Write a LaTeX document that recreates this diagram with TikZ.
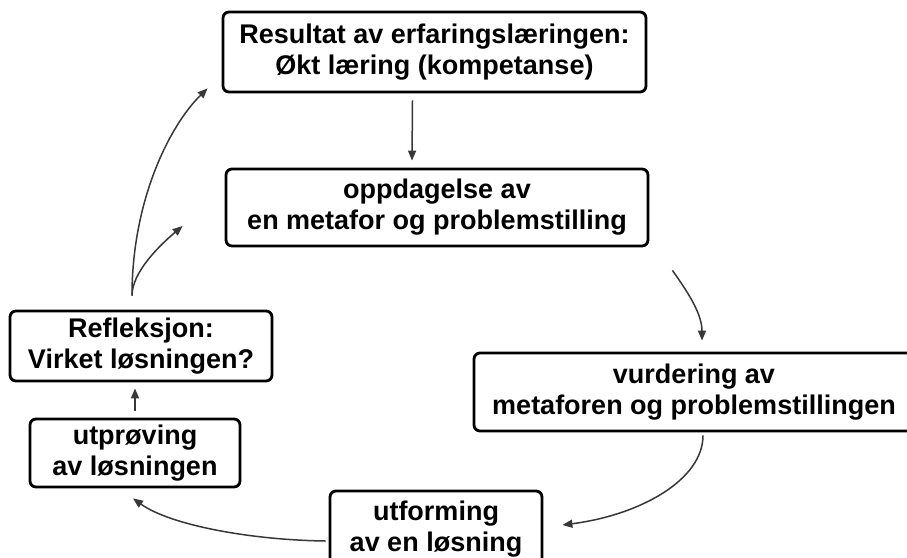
\documentclass[tikz,border=0pt]{standalone}
\usepackage{fontspec}
\setmainfont{Liberation Sans}
\newfontfamily\boxfont{Liberation Sans}
\usetikzlibrary{arrows.meta}
\begin{document}
\begin{tikzpicture}[x=1pt,y=-1pt,
  box/.style={draw=black, line width=2.8pt, rounded corners=6pt, align=center,
    inner sep=0pt, font=\boxfont\bfseries\fontsize{27}{31}\selectfont},
  flow/.style={draw=black!78, line width=1.5pt, -{Triangle[length=10pt,width=8pt]}}]
\clip (0,0) rectangle (907,557);
\fill[white] (0,0) rectangle (907,557);

\node[box, minimum width=423pt, minimum height=80pt] (r) at (434.5,52) {Resultat av erfaringslæringen:\\Økt læring (kompetanse)};
\node[box, minimum width=422pt, minimum height=77pt] (o) at (437,207.5) {oppdagelse av\\en metafor og problemstilling};
\node[box, minimum width=440pt, minimum height=78pt] (v) at (694,392) {vurdering av\\metaforen og problemstillingen};
\node[box, minimum width=212pt, minimum height=76pt] (u) at (436,529) {utforming\\av en løsning};
\node[box, minimum width=210pt, minimum height=68pt] (p) at (135,453) {utprøving\\av løsningen};
\node[box, minimum width=262pt, minimum height=70pt] (f) at (141,346) {Refleksjon:\\Virket løsningen?};

\draw[flow] ([shift={(-22,7)}]r.south) -- ([shift={(-25,-7)}]o.north);
\draw[flow] ([shift={(23,23)}]o.south east) .. controls (690,295) and (702,315) .. ([shift={(8,-11)}]v.north);
\draw[flow] ([shift={(9,3)}]v.south) .. controls (703,480) and (640,515) .. ([shift={(19,-4)}]u.east);
\draw[flow] ([shift={(-3,12)}]u.west) .. controls (250,540) and (170,525) .. ([shift={(-2,10)}]p.south);
\draw[flow] ([shift={(0,-7)}]p.north) -- ([shift={(-6,6)}]f.south);
\draw[flow] ([shift={(-9,-14)}]f.north) .. controls (132,200) and (170,125) .. ([shift={(-14,-5)}]r.south west);
\draw[flow] ([shift={(-9,-14)}]f.north) .. controls (132,272) and (160,245) .. ([shift={(-42,18.5)}]o.west);
\end{tikzpicture}
\end{document}
